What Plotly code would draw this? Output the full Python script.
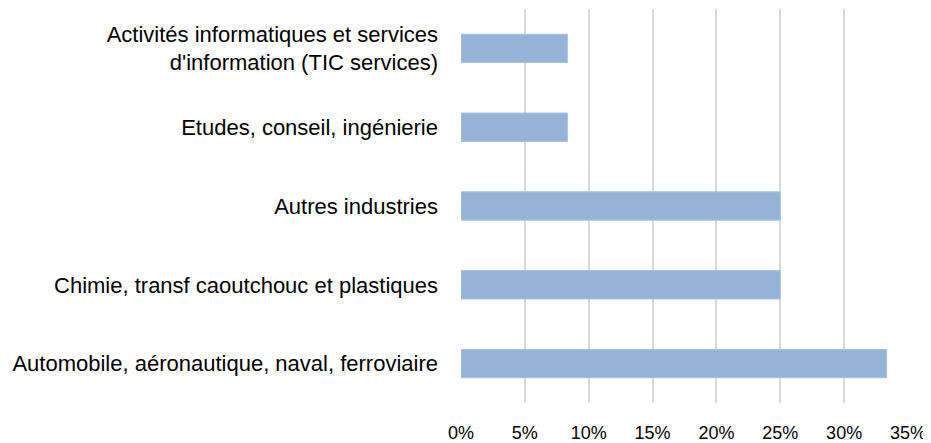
import plotly.graph_objects as go

categories = [
    "Automobile, aéronautique, naval, ferroviaire",
    "Chimie, transf caoutchouc et plastiques",
    "Autres industries",
    "Etudes, conseil, ingénierie",
    "Activités informatiques et services<br>d'information (TIC services)",
]
values = [0.3333, 0.25, 0.25, 0.0833, 0.0833]
tick_vals = [0, 0.05, 0.10, 0.15, 0.20, 0.25, 0.30, 0.35]
tick_text = ["0%", "5%", "10%", "15%", "20%", "25%", "30%", "35%"]

FONT = "Liberation Sans, Arial, sans-serif"

fig = go.Figure(go.Bar(
    x=values, y=categories, orientation="h",
    marker=dict(color="#95B3D7", line=dict(color="#A9C2E0", width=1)),
    width=0.36,
))

# page body has an 8px margin, so the figure is 8px smaller than the window
fig.update_layout(
    width=923, height=435,
    margin=dict(l=453, r=23, t=1, b=40, autoexpand=False),
    paper_bgcolor="white", plot_bgcolor="white",
    font=dict(family=FONT, size=22, color="#000000"),
    showlegend=False,
)
fig.update_xaxes(
    range=[0, 0.35], tickvals=tick_vals, ticktext=tick_text,
    showgrid=True, gridcolor="#D9D9D9", gridwidth=1.5,
    zeroline=False, showline=False, ticks="", ticklabelstandoff=17,
    tickfont=dict(size=18), automargin=False,
)
fig.update_yaxes(
    range=[-0.5, 4.5], showgrid=False, zeroline=False, showline=False,
    ticks="", ticklabelstandoff=22, tickfont=dict(size=22), automargin=False,
)

fig.write_html("out.html")
